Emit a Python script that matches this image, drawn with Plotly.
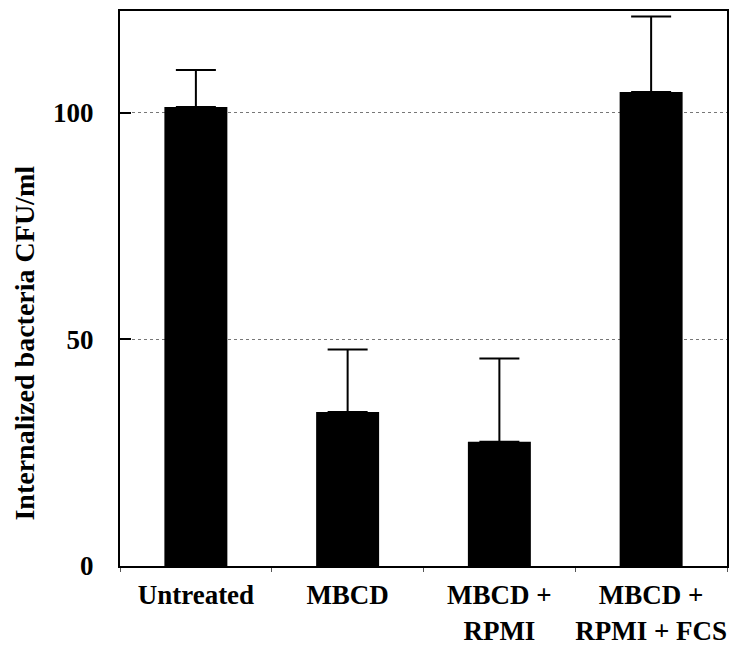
import plotly.graph_objects as go

categories = ["Untreated", "MBCD", "MBCD +<br>RPMI", "MBCD +<br>RPMI + FCS"]
values = [101.3, 34.0, 27.4, 104.6]
err_upper = [8.2, 13.8, 18.4, 16.7]
y_ticks = [0, 50, 100]
y_title = "Internalized bacteria CFU/ml"

FONT = "Liberation Serif, Times New Roman, serif"

fig = go.Figure()
fig.add_trace(go.Bar(
    x=categories,
    y=values,
    marker=dict(color="black", line=dict(width=0)),
    width=0.415,
    error_y=dict(type="data", symmetric=False, array=err_upper,
                 arrayminus=[0] * len(values), color="black",
                 thickness=2, width=20),
))

# page body adds an 8px offset, so the figure is sized 736x641
fig.update_layout(
    width=736, height=641,
    margin=dict(l=112, r=17, t=3, b=83, autoexpand=False),
    paper_bgcolor="white", plot_bgcolor="white",
    showlegend=False,
    font=dict(family=FONT, color="black", size=22),
    xaxis=dict(
        automargin=False,
        showline=True, linecolor="black", linewidth=2, mirror=True,
        ticks="outside", tickson="boundaries", ticklen=4, tickcolor="#555",
        tickangle=0, ticklabelstandoff=4,
        tickfont=dict(family=FONT, size=27, color="black", weight="bold"),
        showgrid=False,
    ),
    yaxis=dict(
        automargin=False,
        range=[0, 122.5],
        tickvals=y_ticks,
        ticks="inside", ticklen=11, tickwidth=2, tickcolor="black",
        showline=True, linecolor="black", linewidth=2, mirror=True,
        showgrid=True, gridcolor="#777", griddash="dot", gridwidth=1,
        zeroline=False,
        tickfont=dict(family=FONT, size=27, color="black", weight="bold"),
        ticklabelstandoff=19,
    ),
    annotations=[dict(
        text=y_title, textangle=-90, showarrow=False,
        xref="paper", yref="paper", x=-0.157, y=0.402,
        xanchor="center", yanchor="middle", borderpad=0,
        font=dict(family=FONT, size=28, color="black", weight="bold"),
    )],
)

fig.write_html("out.html")
